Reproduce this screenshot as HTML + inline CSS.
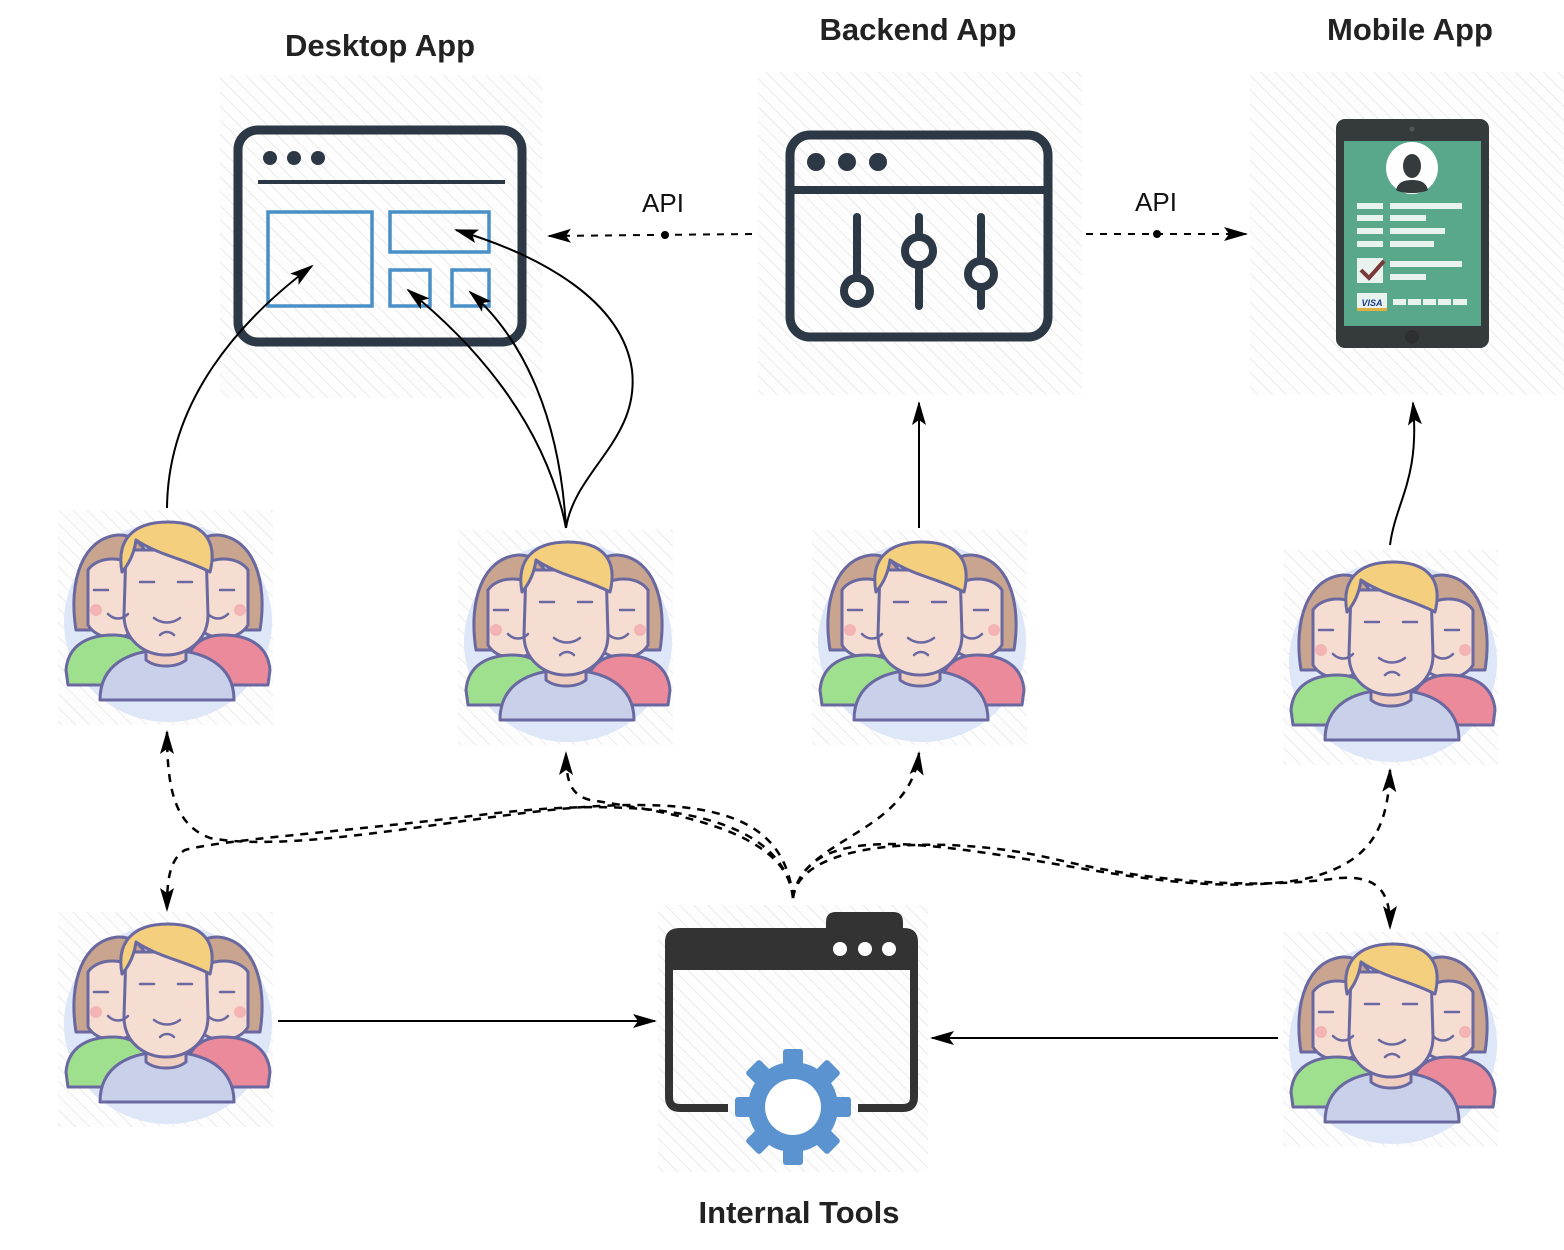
<!DOCTYPE html>
<html><head><meta charset="utf-8"><style>
html,body{margin:0;padding:0;background:#fff;}
svg{display:block;}
text{font-family:"Liberation Sans",sans-serif;}
</style></head><body>
<svg width="1564" height="1250" viewBox="0 0 1564 1250" xmlns="http://www.w3.org/2000/svg">
<defs>
<pattern id="hatch" width="10" height="10" patternUnits="userSpaceOnUse" patternTransform="rotate(-45)">
<rect width="10" height="10" fill="#fdfdfd"/>
<line x1="0" y1="0" x2="0" y2="10" stroke="#ececec" stroke-width="2"/>
</pattern>
<marker id="ah" markerWidth="24" markerHeight="14" refX="22" refY="7" orient="auto" markerUnits="userSpaceOnUse">
<path d="M0,0 L24,7 L0,14 L5,7 Z" fill="#000"/>
</marker>
<g id="ppl">
<rect x="0" y="0" width="215" height="215" fill="url(#hatch)"/>
<ellipse cx="110" cy="112" rx="104" ry="100" fill="#dde7f8"/>
<g stroke="#6a68a0" stroke-width="3" stroke-linejoin="round">
<path d="M18,120 C10,70 25,28 60,25 C90,24 100,60 98,120 Z" fill="#c9a48f"/>
<path d="M30,60 C40,45 70,45 82,62 L82,115 C70,132 40,132 30,115 Z" fill="#f5ddd2"/>
<path d="M8,160 C10,135 30,125 55,125 C80,125 95,140 95,175 L10,175 Z" fill="#9fe08f"/>
<path d="M120,120 C118,60 130,24 160,25 C195,28 210,70 202,120 Z" fill="#c9a48f"/>
<path d="M138,62 C150,45 180,45 190,60 L190,115 C180,132 150,132 138,115 Z" fill="#f5ddd2"/>
<path d="M125,175 C125,140 140,125 165,125 C190,125 210,135 212,160 L210,175 Z" fill="#ea8a9a"/>
<path d="M42,190 C42,155 70,140 108,140 C146,140 176,155 176,190 Z" fill="#c8d0ea"/>
<path d="M88,120 L88,150 C98,158 118,158 128,150 L128,120 Z" fill="#f0cfc0"/>
<path d="M68,40 L148,40 L150,105 C150,130 130,145 108,145 C86,145 66,130 66,105 Z" fill="#f5ddd2"/>
<path d="M64,62 C58,30 75,12 110,12 C145,12 160,30 152,62 C130,50 100,45 78,30 C76,45 70,55 64,62 Z" fill="#f4cf7e"/>
</g>
<g stroke="#6a68a0" stroke-width="2.5" fill="none" stroke-linecap="round">
<path d="M82,72 L96,72 M120,72 L134,72"/>
<path d="M96,108 C104,114 114,114 122,108"/>
<path d="M102,125 C106,121 112,121 116,125"/>
<path d="M36,80 L50,80 M162,80 L176,80"/>
<path d="M50,104 C56,110 64,110 70,104 M150,104 C156,110 164,110 170,104"/>
</g>
<circle cx="38" cy="100" r="6" fill="#f4b4b4"/>
<circle cx="182" cy="100" r="6" fill="#f4b4b4"/>
</g>
</defs>

<rect x="220" y="75" width="322" height="323" fill="url(#hatch)"/>
<rect x="758" y="72" width="324" height="323" fill="url(#hatch)"/>
<rect x="1250" y="72" width="314" height="323" fill="url(#hatch)"/>
<rect x="658" y="905" width="270" height="267" fill="url(#hatch)"/>

<text x="380" y="56" font-size="31" font-weight="bold" text-anchor="middle" fill="#222">Desktop App</text>
<text x="918" y="40" font-size="31" font-weight="bold" text-anchor="middle" fill="#222">Backend App</text>
<text x="1410" y="40" font-size="31" font-weight="bold" text-anchor="middle" fill="#222">Mobile App</text>
<text x="799" y="1223" font-size="31" font-weight="bold" text-anchor="middle" fill="#222">Internal Tools</text>

<rect x="238" y="130" width="284" height="212" rx="20" fill="none" stroke="#2d3846" stroke-width="9"/>
<circle cx="270" cy="158" r="7" fill="#2d3846"/><circle cx="294" cy="158" r="7" fill="#2d3846"/><circle cx="318" cy="158" r="7" fill="#2d3846"/>
<line x1="258" y1="182" x2="505" y2="182" stroke="#2d3846" stroke-width="4"/>
<g fill="none" stroke="#4a90c8" stroke-width="3.5">
<rect x="268" y="212" width="104" height="94"/>
<rect x="390" y="212" width="99" height="40"/>
<rect x="390" y="270" width="40" height="36"/>
<rect x="452" y="270" width="37" height="36"/>
</g>

<rect x="790" y="135" width="258" height="202" rx="20" fill="none" stroke="#2d3846" stroke-width="9"/>
<circle cx="816" cy="162" r="9" fill="#2d3846"/><circle cx="847" cy="162" r="9" fill="#2d3846"/><circle cx="878" cy="162" r="9" fill="#2d3846"/>
<line x1="790" y1="190" x2="1048" y2="190" stroke="#2d3846" stroke-width="8"/>
<g stroke="#2d3846" stroke-width="8" fill="none" stroke-linecap="round">
<line x1="857" y1="217" x2="857" y2="274"/><circle cx="857" cy="291" r="13"/>
<line x1="919" y1="217" x2="919" y2="232"/><circle cx="919" cy="251" r="14"/><line x1="919" y1="270" x2="919" y2="306"/>
<line x1="981" y1="217" x2="981" y2="257"/><circle cx="981" cy="274" r="13"/><line x1="981" y1="291" x2="981" y2="306"/>
</g>

<rect x="1336" y="119" width="153" height="229" rx="9" fill="#353a3d"/>
<circle cx="1412" cy="129" r="2.5" fill="#555"/>
<rect x="1344" y="141" width="137" height="185" fill="#5aa88b"/>
<circle cx="1412" cy="337" r="7" fill="#2c3032"/>
<circle cx="1412" cy="168" r="26" fill="#fff"/>
<path d="M1396,190 C1398,182 1404,180 1412,180 C1420,180 1426,182 1428,190 C1422,194 1402,194 1396,190 Z" fill="#353a3d"/>
<ellipse cx="1412" cy="166" rx="9" ry="12" fill="#353a3d"/>
<g fill="#e8f2ee">
<rect x="1357" y="203" width="26" height="6"/><rect x="1390" y="203" width="72" height="6"/>
<rect x="1357" y="215" width="26" height="6"/><rect x="1390" y="215" width="36" height="6"/>
<rect x="1357" y="228" width="26" height="6"/><rect x="1390" y="228" width="55" height="6"/>
<rect x="1357" y="241" width="26" height="6"/><rect x="1390" y="241" width="44" height="6"/>
<rect x="1357" y="258" width="26" height="25"/>
<rect x="1390" y="261" width="72" height="6"/><rect x="1390" y="274" width="36" height="6"/>
<rect x="1357" y="293" width="30" height="18"/>
<rect x="1393" y="299" width="13" height="6"/><rect x="1408" y="299" width="13" height="6"/><rect x="1423" y="299" width="13" height="6"/><rect x="1438" y="299" width="13" height="6"/><rect x="1453" y="299" width="14" height="6"/>
</g>
<path d="M1361,270 L1369,278 L1384,261" stroke="#7a3a3a" stroke-width="4" fill="none"/>
<text x="1372" y="306" font-size="9" font-weight="bold" font-style="italic" text-anchor="middle" fill="#1a3d8a">VISA</text>
<rect x="1357" y="308" width="30" height="3" fill="#e0b040"/>

<path d="M826,928 L826,922 Q826,912 836,912 L893,912 Q903,912 903,922 L903,928 Z" fill="#333"/>
<path d="M680,928 L904,928 Q918,928 918,942 L918,970 L665,970 L665,942 Q665,928 680,928 Z" fill="#333"/>
<path d="M728,1108 L680,1108 Q669,1108 669,1097 L669,968" fill="none" stroke="#333" stroke-width="8"/>
<path d="M858,1108 L903,1108 Q914,1108 914,1097 L914,968" fill="none" stroke="#333" stroke-width="8"/>
<circle cx="840" cy="949" r="7" fill="#fff"/><circle cx="865" cy="949" r="7" fill="#fff"/><circle cx="889" cy="949" r="7" fill="#fff"/>
<g transform="translate(793,1107)" fill="#5b93d0">
<circle r="45"/>
<g id="teeth">
<rect x="-10" y="-58" width="20" height="20" rx="3"/>
<rect x="-10" y="38" width="20" height="20" rx="3"/>
<rect x="-58" y="-10" width="20" height="20" rx="3"/>
<rect x="38" y="-10" width="20" height="20" rx="3"/>
</g>
<use href="#teeth" transform="rotate(45)"/>
</g>
<circle cx="793" cy="1107" r="28" fill="#fff"/>

<use href="#ppl" x="58" y="510"/>
<use href="#ppl" x="458" y="530"/>
<use href="#ppl" x="812" y="530"/>
<use href="#ppl" x="1283" y="550"/>
<use href="#ppl" x="58" y="912"/>
<use href="#ppl" x="1283" y="932"/>

<g fill="none" stroke="#000" stroke-width="2">
<path d="M167,508 C168,400 240,320 312,266" marker-end="url(#ah)"/>
<path d="M566,528 C545,420 470,340 408,290" marker-end="url(#ah)"/>
<path d="M566,528 C560,420 525,340 470,292" marker-end="url(#ah)"/>
<path d="M566,528 C575,470 640,440 632,370 C622,300 540,255 456,230" marker-end="url(#ah)"/>
<path d="M919,528 L919,403" marker-end="url(#ah)"/>
<path d="M1390,545 C1396,500 1420,480 1413,403" marker-end="url(#ah)"/>
<path d="M278,1021 L655,1021" marker-end="url(#ah)"/>
<path d="M1278,1038 L932,1038" marker-end="url(#ah)"/>
</g>

<g fill="none" stroke="#000" stroke-width="2" stroke-dasharray="7,7">
<path d="M752,234 L549,236" marker-end="url(#ah)"/>
<path d="M1086,234 L1246,234" marker-end="url(#ah)"/>
</g>
<circle cx="665" cy="235" r="4" fill="#000"/>
<circle cx="1157" cy="234" r="4" fill="#000"/>
<text x="663" y="212" font-size="26" text-anchor="middle" fill="#111">API</text>
<text x="1156" y="211" font-size="26" text-anchor="middle" fill="#111">API</text>

<g fill="none" stroke="#000" stroke-width="2.5" stroke-dasharray="8,7">
<path d="M793,898 C785,820 720,800 600,806 C480,812 300,855 210,838 C175,825 167,790 167,732" marker-end="url(#ah)"/>
<path d="M793,898 C782,810 640,795 480,815 C340,832 220,840 185,850 C168,860 167,885 167,910" marker-end="url(#ah)"/>
<path d="M793,898 C788,825 650,810 590,800 C570,795 566,780 566,753" marker-end="url(#ah)"/>
<path d="M793,898 C800,838 910,835 919,753" marker-end="url(#ah)"/>
<path d="M793,898 C805,830 900,840 1000,855 C1100,870 1200,895 1300,880 C1370,865 1388,830 1390,770" marker-end="url(#ah)"/>
<path d="M793,898 C800,838 950,835 1050,858 C1150,882 1250,890 1340,878 C1385,875 1390,900 1390,928" marker-end="url(#ah)"/>
</g>
</svg>
</body></html>
